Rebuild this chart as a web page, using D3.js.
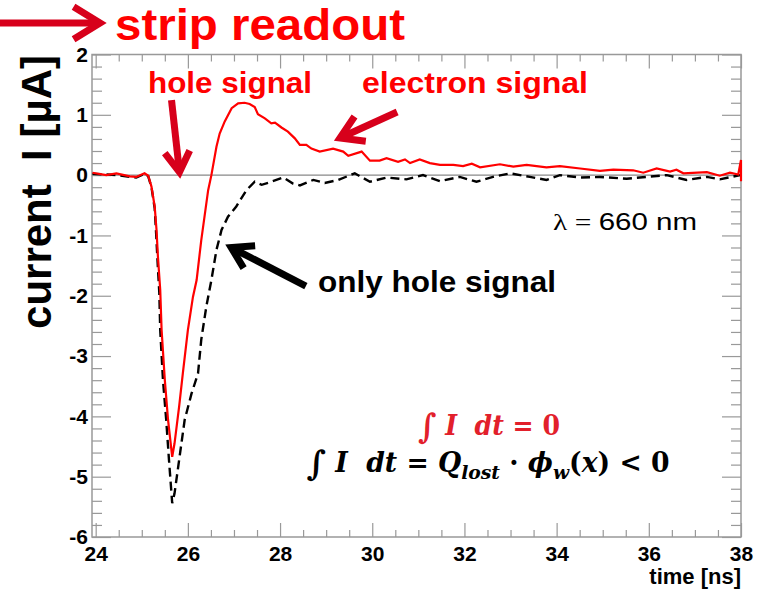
<!DOCTYPE html>
<html lang="en">
<head>
<meta charset="UTF-8">
<title>strip readout</title>
<script src="https://d3js.org/d3.v7.min.js"></script>
<style>
  body { margin: 0; background: #fff; }
  svg { display: block; font-family: "Liberation Sans", Arial, sans-serif; }
  .axis text { font-size: 21px; font-weight: bold; fill: #000; }
  .axis line { stroke: #999; stroke-width: 1.2; }
  .axis path { display: none; }
  .note { font-weight: bold; fill: #ff0000; }
  .math { font-family: "DejaVu Serif", "Liberation Serif", serif; font-weight: bold; }
</style>
</head>
<body>
<div id="chart"></div>
<script>
// hole + electron signal (solid red)
const redTime = [23.93, 24.23, 24.45, 24.74, 24.88, 25.06, 25.14, 25.21, 25.28, 25.32, 25.35, 25.40,
  25.43, 25.50, 25.57, 25.66, 25.71, 25.81, 25.89, 26.00, 26.11, 26.19, 26.29, 26.44, 26.51,
  26.62, 26.69, 26.80, 26.95, 27.09, 27.23, 27.34, 27.45, 27.52, 27.67, 27.81, 27.89, 28.03,
  28.17, 28.32, 28.43, 28.57, 28.68, 28.86, 29.15, 29.37, 29.48, 29.77, 29.95, 30.16, 30.31,
  30.56, 30.71, 30.82, 31.03, 31.25, 31.47, 31.76, 31.97, 32.16, 32.34, 32.77, 33.06, 33.35,
  33.78, 34.07, 34.51, 34.94, 35.23, 35.66, 35.88, 36.17, 36.46, 36.60, 36.75, 37.26, 37.54,
  37.76, 37.94, 38.00, 38.00];
const redCurrent = [0.04, 0.00, 0.03, -0.02, -0.03, 0.03, -0.01, -0.19, -0.52, -0.91, -1.35, -1.90,
  -2.57, -3.40, -4.06, -4.67, -4.45, -3.84, -3.29, -2.57, -2.02, -1.74, -1.08, -0.25, 0.00,
  0.47, 0.69, 0.89, 1.11, 1.19, 1.20, 1.18, 1.13, 1.01, 0.94, 0.86, 0.87, 0.79,
  0.72, 0.61, 0.50, 0.50, 0.44, 0.39, 0.44, 0.39, 0.32, 0.39, 0.24, 0.24, 0.28,
  0.22, 0.26, 0.20, 0.26, 0.20, 0.17, 0.17, 0.15, 0.19, 0.13, 0.18, 0.14, 0.17,
  0.13, 0.15, 0.11, 0.07, 0.09, 0.08, 0.04, 0.11, 0.06, 0.09, 0.03, 0.05, -0.01,
  0.04, 0.01, 0.25, -0.10];

// only hole signal (dashed black)
const blackTime = [23.93, 24.23, 24.45, 24.74, 24.88, 25.06, 25.14, 25.21, 25.28, 25.31, 25.34, 25.38,
  25.40, 25.46, 25.53, 25.59, 25.66, 25.71, 25.82, 25.93, 26.08, 26.22, 26.29, 26.40, 26.51,
  26.62, 26.73, 26.87, 27.05, 27.27, 27.45, 27.60, 27.81, 28.07, 28.28, 28.43, 28.72, 28.97,
  29.26, 29.62, 29.95, 30.31, 30.74, 31.10, 31.47, 31.90, 32.26, 32.62, 32.99, 33.42, 33.78,
  34.07, 34.51, 34.94, 35.52, 35.95, 36.39, 36.82, 37.26, 37.54, 37.98];
const blackCurrent = [0.02, 0.01, 0.00, -0.03, -0.04, 0.02, -0.02, -0.20, -0.55, -0.95, -1.40, -1.95,
  -2.57, -3.40, -4.06, -4.72, -5.44, -5.28, -4.67, -4.06, -3.62, -3.29, -2.73, -2.18, -1.74,
  -1.24, -0.91, -0.69, -0.52, -0.25, -0.11, -0.16, -0.11, -0.04, -0.14, -0.17, -0.08, -0.13,
  -0.08, 0.03, -0.11, -0.04, -0.07, 0.00, -0.10, -0.03, -0.11, -0.03, 0.03, -0.03, -0.08,
  0.00, -0.04, -0.03, -0.06, -0.03, 0.00, -0.08, -0.03, -0.07, 0.00];

const xTicks = [24, 26, 28, 30, 32, 34, 36, 38];
const yTicks = [-6, -5, -4, -3, -2, -1, 0, 1, 2];

// arrows pointing at the curves: [t0, I0, t1, I1]
const holeArrow = [25.645, 1.245, 25.818, 0.05];
const electronArrow = [30.54, 1.046, 29.30, 0.615];
const onlyHoleArrow = [28.56, -1.839, 26.94, -1.201];

const W = 769, H = 589;
const frame = { left: 92, right: 741, top: 54.5, bottom: 537 };

const svg = d3.select("#chart").append("svg")
    .attr("width", W)
    .attr("height", H);

const x = d3.scaleLinear().domain([23.92, 38]).range([frame.left, frame.right]);
const y = d3.scaleLinear().domain([-6, 2]).range([frame.bottom, frame.top]);

const xMinor = d3.range(48, 77).map(i => i / 2).filter(v => v % 2 !== 0);
const yMinor = d3.range(-30, 11).filter(i => i % 5 !== 0).map(i => i / 5);

// axes: ROOT style, ticks inside the frame on all four sides
svg.append("g").attr("class", "axis")
    .attr("transform", `translate(0,${frame.bottom})`)
    .call(d3.axisBottom(x).tickValues(xTicks).tickSize(-14).tickPadding(9).tickFormat(d => d));
svg.append("g").attr("class", "axis")
    .attr("transform", `translate(0,${frame.bottom})`)
    .call(d3.axisBottom(x).tickValues(xMinor).tickSize(-7).tickFormat(""));
svg.append("g").attr("class", "axis")
    .attr("transform", `translate(0,${frame.top})`)
    .call(d3.axisTop(x).tickValues(xTicks).tickSize(-14).tickFormat(""));
svg.append("g").attr("class", "axis")
    .attr("transform", `translate(0,${frame.top})`)
    .call(d3.axisTop(x).tickValues(xMinor).tickSize(-7).tickFormat(""));

svg.append("g").attr("class", "axis")
    .attr("transform", `translate(${frame.left},0)`)
    .call(d3.axisLeft(y).tickValues(yTicks).tickSize(-19).tickPadding(4).tickFormat(d => d));
svg.append("g").attr("class", "axis")
    .attr("transform", `translate(${frame.left},0)`)
    .call(d3.axisLeft(y).tickValues(yMinor).tickSize(-10).tickFormat(""));
svg.append("g").attr("class", "axis")
    .attr("transform", `translate(${frame.right},0)`)
    .call(d3.axisRight(y).tickValues(yTicks).tickSize(-19).tickFormat(""));
svg.append("g").attr("class", "axis")
    .attr("transform", `translate(${frame.right},0)`)
    .call(d3.axisRight(y).tickValues(yMinor).tickSize(-10).tickFormat(""));

// frame
svg.append("rect")
    .attr("x", frame.left).attr("y", frame.top)
    .attr("width", frame.right - frame.left)
    .attr("height", frame.bottom - frame.top)
    .attr("fill", "none")
    .attr("stroke", "#999")
    .attr("stroke-width", 1.5);

// zero line
svg.append("line")
    .attr("x1", frame.left).attr("x2", frame.right)
    .attr("y1", y(0)).attr("y2", y(0))
    .attr("stroke", "#888")
    .attr("stroke-width", 1.2);

svg.append("clipPath").attr("id", "clip")
    .append("rect")
    .attr("x", frame.left).attr("y", frame.top)
    .attr("width", frame.right - frame.left + 2)
    .attr("height", frame.bottom - frame.top);

const line = d3.line().x(d => x(d[0])).y(d => y(d[1]));

svg.append("path")
    .datum(d3.zip(blackTime, blackCurrent))
    .attr("clip-path", "url(#clip)")
    .attr("fill", "none")
    .attr("stroke", "#000")
    .attr("stroke-width", 2.4)
    .attr("stroke-dasharray", "9,5")
    .attr("d", line);

svg.append("path")
    .datum(d3.zip(redTime, redCurrent))
    .attr("clip-path", "url(#clip)")
    .attr("fill", "none")
    .attr("stroke", "#ff0000")
    .attr("stroke-width", 2.2)
    .attr("d", line);

// axis titles
svg.append("text")
    .attr("transform", "translate(51,192) rotate(-90)")
    .attr("text-anchor", "middle")
    .style("white-space", "pre")
    .attr("font-size", 42)
    .attr("font-weight", "bold")
    .text("current  I [\u00b5A]");

svg.append("text")
    .attr("x", frame.right).attr("y", 584)
    .attr("text-anchor", "end")
    .attr("font-size", 22)
    .attr("font-weight", "bold")
    .text("time [ns]");

// arrows
function arrow(x1, y1, x2, y2, color, head) {
    const a = Math.atan2(y1 - y2, x1 - x2);
    const g = svg.append("g")
        .attr("fill", "none")
        .attr("stroke", color)
        .attr("stroke-width", 7);
    g.append("line")
        .attr("x1", x1).attr("y1", y1)
        .attr("x2", x2 + 3 * Math.cos(a)).attr("y2", y2 + 3 * Math.sin(a));
    const p1 = [x2 + head * Math.cos(a - 0.55), y2 + head * Math.sin(a - 0.55)];
    const p2 = [x2 + head * Math.cos(a + 0.55), y2 + head * Math.sin(a + 0.55)];
    g.append("path")
        .attr("stroke-linejoin", "miter")
        .attr("d", `M${p1}L${x2},${y2}L${p2}`);
}

const darkRed = "#d7001b";
arrow(0, 23, 100, 23, darkRed, 31);
arrow(x(holeArrow[0]), y(holeArrow[1]), x(holeArrow[2]), y(holeArrow[3]), darkRed, 24);
arrow(x(electronArrow[0]), y(electronArrow[1]), x(electronArrow[2]), y(electronArrow[3]), darkRed, 26);
arrow(x(onlyHoleArrow[0]), y(onlyHoleArrow[1]), x(onlyHoleArrow[2]), y(onlyHoleArrow[3]), "#000", 24);

// labels
svg.append("text").attr("class", "note")
    .attr("x", 115).attr("y", 40)
    .attr("font-size", 44)
    .attr("textLength", 290)
    .attr("lengthAdjust", "spacingAndGlyphs")
    .text("strip readout");

svg.append("text").attr("class", "note")
    .attr("x", 148).attr("y", 93)
    .attr("font-size", 30)
    .attr("textLength", 164)
    .attr("lengthAdjust", "spacingAndGlyphs")
    .text("hole signal");

svg.append("text").attr("class", "note")
    .attr("x", 362).attr("y", 93)
    .attr("font-size", 30)
    .attr("textLength", 226)
    .attr("lengthAdjust", "spacingAndGlyphs")
    .text("electron signal");

svg.append("text")
    .attr("x", 318).attr("y", 292)
    .attr("font-size", 30)
    .attr("font-weight", "bold")
    .attr("textLength", 238)
    .attr("lengthAdjust", "spacingAndGlyphs")
    .text("only hole signal");

const lambda = svg.append("text")
    .attr("x", 553).attr("y", 230)
    .attr("font-size", 24)
    .attr("textLength", 144)
    .attr("lengthAdjust", "spacingAndGlyphs");
lambda.append("tspan").attr("font-family", "Liberation Serif, serif").text("\u03bb = ");
lambda.append("tspan").text("660 nm");

// integral formulas
const f1 = svg.append("text").attr("class", "math")
    .attr("x", 489).attr("y", 435)
    .attr("text-anchor", "middle")
    .attr("font-size", 27)
    .attr("fill", "#e2202b")
    .attr("textLength", 142)
    .attr("lengthAdjust", "spacingAndGlyphs")
    .style("white-space", "pre");
f1.append("tspan").attr("font-size", 34).attr("dy", 3).text("\u222b");
f1.append("tspan").attr("dy", -3).text(" ");
f1.append("tspan").attr("font-style", "italic").text("I  dt");
f1.append("tspan").text(" = 0");

const f2 = svg.append("text").attr("class", "math")
    .attr("x", 488).attr("y", 472)
    .attr("text-anchor", "middle")
    .attr("font-size", 27)
    .attr("fill", "#000")
    .attr("textLength", 363)
    .attr("lengthAdjust", "spacingAndGlyphs")
    .style("white-space", "pre");
f2.append("tspan").attr("font-size", 34).attr("dy", 3).text("\u222b");
f2.append("tspan").attr("dy", -3).text(" ");
f2.append("tspan").attr("font-style", "italic").text("I  dt");
f2.append("tspan").text(" = ");
f2.append("tspan").attr("font-style", "italic").text("Q");
f2.append("tspan").attr("font-style", "italic").attr("font-size", 19).attr("dy", 7).text("lost");
f2.append("tspan").attr("dy", -7).text(" \u00b7 ");
f2.append("tspan").attr("font-style", "italic").text("\u03d5");
f2.append("tspan").attr("font-style", "italic").attr("font-size", 19).attr("dy", 7).text("w");
f2.append("tspan").attr("dy", -7).text("(");
f2.append("tspan").attr("font-style", "italic").text("x");
f2.append("tspan").text(") < 0");
</script>
</body>
</html>
